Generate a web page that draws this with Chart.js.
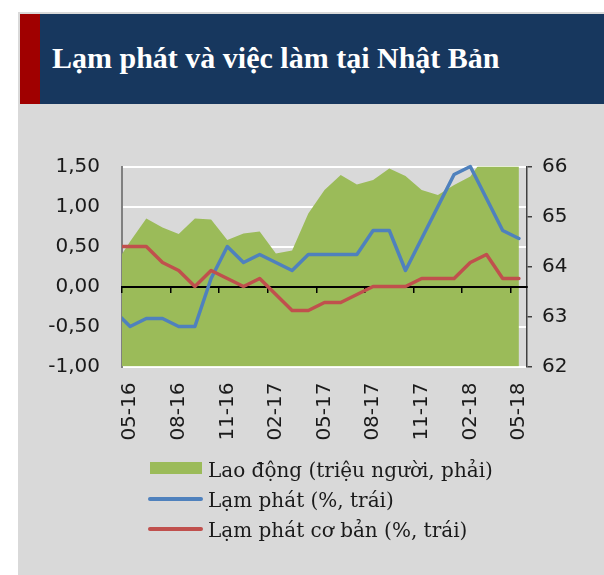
<!DOCTYPE html>
<html>
<head>
<meta charset="utf-8">
<script src="https://cdn.jsdelivr.net/npm/chart.js@4.4.1/dist/chart.umd.min.js"></script>
<style>
html,body{margin:0;padding:0;background:#ffffff;}
#wrap{position:relative;width:604px;height:575px;overflow:hidden;background:#ffffff;}
#panel{position:absolute;left:18px;top:12px;width:586px;height:563px;background:#d9d9d9;}
#band{position:absolute;left:20px;top:14px;width:584px;height:90px;background:#17375e;}
#stripe{position:absolute;left:20px;top:14px;width:20px;height:90px;background:#a00000;}
#title{position:absolute;left:52px;top:13px;height:90px;line-height:90px;color:#ffffff;font-family:"Liberation Serif",serif;font-weight:bold;font-size:30px;white-space:nowrap;}
canvas{position:absolute;left:0;top:0;}
.lg-text{position:absolute;left:208px;height:30px;line-height:30px;font-family:"DejaVu Serif",serif;font-size:20px;color:#1a1a1a;white-space:nowrap;}
.lg-box{position:absolute;}
</style>
</head>
<body>
<div id="wrap">
  <div id="panel"></div>
  <div id="band"></div>
  <div id="stripe"></div>
  <div id="title">Lạm phát và việc làm tại Nhật Bản</div>
  <canvas id="c" width="604" height="575"></canvas>
  <div id="legend"></div>
</div>
<script>
// ---- data ----
const categories = ['04-16','05-16','06-16','07-16','08-16','09-16','10-16','11-16','12-16',
  '01-17','02-17','03-17','04-17','05-17','06-17','07-17','08-17','09-17','10-17','11-17','12-17',
  '01-18','02-18','03-18','04-18','05-18'];
const firstShown = '05-16';
const tickLabels = ['05-16','08-16','11-16','02-17','05-17','08-17','11-17','02-18','05-18'];
const laoDong = [64.0, 64.5, 64.96, 64.78, 64.65, 64.96, 64.94, 64.53, 64.66,
  64.70, 64.26, 64.32, 65.06, 65.53, 65.83, 65.64, 65.73, 65.96, 65.81, 65.53, 65.43,
  65.63, 65.80, 66.25, 66.4, 66.6];
const lamPhat = [-0.3, -0.5, -0.4, -0.4, -0.5, -0.5, 0.1, 0.5, 0.3,
  0.4, 0.3, 0.2, 0.4, 0.4, 0.4, 0.4, 0.7, 0.7, 0.2, 0.6, 1.0,
  1.4, 1.5, 1.1, 0.7, 0.6];
const lamPhatCoBan = [0.5, 0.5, 0.5, 0.3, 0.2, 0.0, 0.2, 0.1, 0.0,
  0.1, -0.1, -0.3, -0.3, -0.2, -0.2, -0.1, 0.0, 0.0, 0.0, 0.1, 0.1,
  0.1, 0.3, 0.4, 0.1, 0.1];
const seriesNames = ['Lao động (triệu người, phải)', 'Lạm phát (%, trái)', 'Lạm phát cơ bản (%, trái)'];
const leftTicks = [-1.0, -0.5, 0.0, 0.5, 1.0, 1.5];
const rightTicks = [62, 63, 64, 65, 66];

const GREEN = '#9bbb59', BLUE = '#4f81bd', RED = '#c0504d';
const TXT = '#1a1a1a';

// draws the zero axis (tick marks + line) above the green area, below the lines
const zeroAxisOnTop = {
  id: 'zeroAxisOnTop',
  afterDatasetDraw(chart, args) {
    if (args.index !== 0) return;
    const s = chart.scales.x2;
    if (!s) return;
    if (typeof s.drawGrid === 'function') s.drawGrid(chart.chartArea);
    if (typeof s.drawBorder === 'function') s.drawBorder();
  }
};

const everyThird = (ctx) => (ctx.index % 3 === 0 ? '#000000' : 'rgba(0,0,0,0)');

const chart = new Chart(document.getElementById('c'), {
  type: 'line',
  data: {
    labels: categories,
    datasets: [
      {
        label: seriesNames[0], data: laoDong, yAxisID: 'y2', xAxisID: 'x',
        fill: 'start', backgroundColor: GREEN, borderColor: 'rgba(0,0,0,0)', borderWidth: 0,
        pointRadius: 0, pointHoverRadius: 0, order: 3, tension: 0
      },
      {
        label: seriesNames[1], data: lamPhat, yAxisID: 'y', xAxisID: 'x',
        fill: false, borderColor: BLUE, backgroundColor: BLUE, borderWidth: 3.5,
        borderJoinStyle: 'round', borderCapStyle: 'round',
        pointRadius: 0, pointHoverRadius: 0, order: 2, tension: 0,
        clip: {left: 0, top: 5, right: 5, bottom: 5}
      },
      {
        label: seriesNames[2], data: lamPhatCoBan, yAxisID: 'y', xAxisID: 'x',
        fill: false, borderColor: RED, backgroundColor: RED, borderWidth: 3.5,
        borderJoinStyle: 'round', borderCapStyle: 'round',
        pointRadius: 0, pointHoverRadius: 0, order: 1, tension: 0,
        clip: {left: 0, top: 5, right: 5, bottom: 5}
      }
    ]
  },
  options: {
    responsive: false,
    devicePixelRatio: 1,
    animation: false,
    events: [],
    layout: { padding: { left: 0, right: 0, top: 166.5, bottom: 128.5 } },
    plugins: { legend: { display: false }, tooltip: { enabled: false } },
    scales: {
      x: {
        type: 'category', position: 'bottom', offset: true, min: firstShown,
        grid: { display: false, drawTicks: false, drawOnChartArea: false },
        border: { display: false },
        ticks: {
          autoSkip: false, minRotation: 90, maxRotation: 90, padding: 16,
          color: TXT, font: { family: 'DejaVu Sans', size: 20 },
          callback: function (value) {
            const lab = this.getLabelForValue(value);
            return tickLabels.includes(lab) ? lab : '';
          }
        },
        afterFit: (s) => { s.height = 80; }
      },
      x2: {
        type: 'category', axis: 'x', position: { y: 0 }, offset: true, min: firstShown,
        grid: { display: true, drawOnChartArea: false, drawTicks: true, tickLength: 5,
                offset: true, lineWidth: 1.5, color: everyThird, tickColor: everyThird },
        border: { display: true, color: '#000000', width: 2 },
        ticks: { display: false }
      },
      y: {
        type: 'linear', position: 'left', min: leftTicks[0], max: leftTicks[leftTicks.length - 1],
        afterBuildTicks: (s) => { s.ticks = leftTicks.map(v => ({ value: v })); },
        grid: { color: '#ffffff', lineWidth: 2, drawTicks: false },
        border: { display: true, color: '#808080', width: 2 },
        ticks: {
          padding: 22, color: TXT, font: { family: 'DejaVu Sans', size: 20 },
          callback: (v) => Number(v).toFixed(2).replace('.', ',')
        },
        afterFit: (s) => { s.width = 122; }
      },
      y2: {
        type: 'linear', position: 'right', min: rightTicks[0], max: rightTicks[rightTicks.length - 1],
        afterBuildTicks: (s) => { s.ticks = rightTicks.map(v => ({ value: v })); },
        grid: { drawOnChartArea: false, drawTicks: true, tickLength: 5, color: '#404040', lineWidth: 1.5 },
        border: { display: true, color: '#404040', width: 1.5 },
        ticks: {
          padding: 10, color: TXT, font: { family: 'DejaVu Sans', size: 20 },
          callback: (v) => String(v)
        },
        afterFit: (s) => { s.width = 77; }
      }
    }
  },
  plugins: [zeroAxisOnTop]
});

// HTML legend built from the chart's datasets
(function buildLegend() {
  const host = document.getElementById('legend');
  const tops = [454.7, 485.0, 515.3];
  chart.data.datasets.forEach((ds, i) => {
    const t = tops[i];
    const box = document.createElement('div');
    box.className = 'lg-box';
    if (ds.fill) {
      box.style.cssText = 'left:150px;top:' + (t + 7.5) + 'px;width:52px;height:12px;background:' + ds.backgroundColor + ';';
    } else {
      box.style.cssText = 'left:148px;top:' + (t + 12) + 'px;width:55px;height:4px;border-radius:2px;background:' + ds.borderColor + ';';
    }
    host.appendChild(box);
    const tx = document.createElement('div');
    tx.className = 'lg-text';
    tx.style.top = t + 'px';
    tx.textContent = ds.label;
    host.appendChild(tx);
  });
})();
</script>
</body>
</html>
